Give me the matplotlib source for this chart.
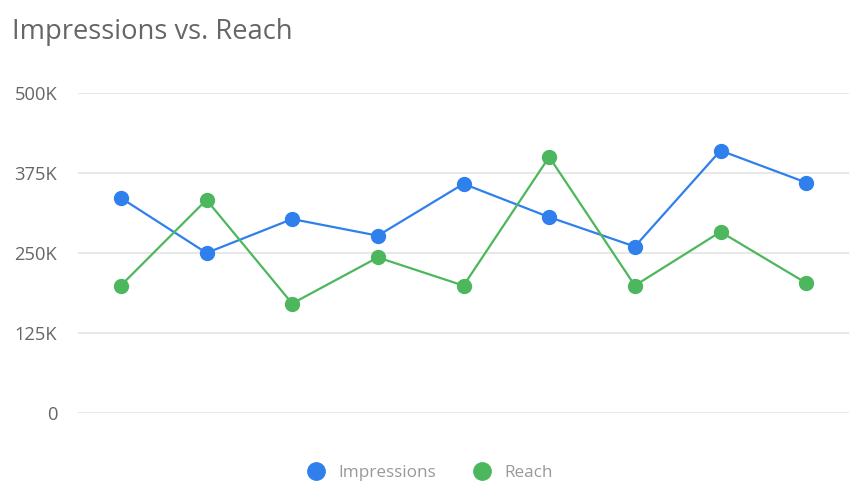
import matplotlib.pyplot as plt
from matplotlib.lines import Line2D

# data
points = list(range(9))
impressions = [336, 250, 303, 277, 358, 306, 260, 410, 360]
reach = [199, 333, 171, 243, 199, 400, 199, 283, 203]
y_ticks = [0, 125, 250, 375, 500]
y_labels = ["0", "125K", "250K", "375K", "500K"]

blue = "#2f80ed"
green = "#4cb75c"

plt.rcParams["font.family"] = ["Open Sans", "DejaVu Sans"]

fig = plt.figure(figsize=(8.59, 5.04), dpi=100)
ax = fig.add_axes([0.0908, 0.1806, 0.8976, 0.635])

ax.plot(points, [v * 1000 for v in impressions], color=blue, linewidth=1.6,
        marker="o", markersize=10, zorder=3)
ax.plot(points, [v * 1000 for v in reach], color=green, linewidth=1.6,
        marker="o", markersize=10, zorder=3)

ax.set_xlim(-0.5, 8.5)
ax.set_ylim(0, 500000)
ax.set_yticks([t * 1000 for t in y_ticks])
ax.set_yticklabels(y_labels)
ax.set_xticks([])
ax.tick_params(axis="y", length=0, pad=15, labelsize=13.2, labelcolor="#666666")
ax.grid(axis="y", color="#e6e6e6", linewidth=1.3)
for s in ax.spines.values():
    s.set_visible(False)
ax.set_axisbelow(True)

fig.text(0.014, 0.922, "Impressions vs. Reach", fontsize=19.7, color="#666666",
         ha="left", va="baseline")

handles = [
    Line2D([], [], linestyle="none", marker="o", markersize=12.5, color=blue),
    Line2D([], [], linestyle="none", marker="o", markersize=12.5, color=green),
]
leg = fig.legend(handles, ["Impressions", "Reach"], loc="center",
                 bbox_to_anchor=(0.501, 0.062), ncol=2, frameon=False,
                 fontsize=12.3, handletextpad=0.8, columnspacing=2.2,
                 handlelength=1.0)
for t in leg.get_texts():
    t.set_color("#999999")

fig.savefig("out.png", dpi=100, facecolor="white")
